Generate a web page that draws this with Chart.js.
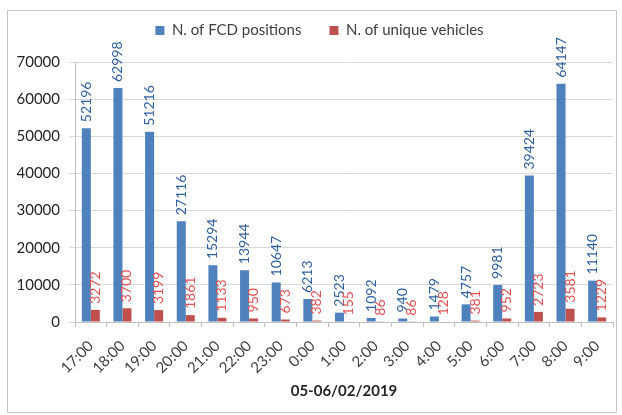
<!DOCTYPE html>
<html>
<head>
<meta charset="utf-8">
<script src="https://cdn.jsdelivr.net/npm/chart.js@4.4.1/dist/chart.umd.min.js"></script>
<style>
  html, body { margin: 0; padding: 0; background: #fff; }
  #wrap { position: relative; width: 622px; height: 415px; }
  #frame { position: absolute; left: 7px; top: 10px; width: 608px; height: 401px; border: 1px solid #c6c6c6; pointer-events: none; }
  canvas { position: absolute; left: 0; top: 0; }
</style>
</head>
<body>
<div id="wrap">
  <div id="frame"></div>
  <canvas id="c" width="622" height="415"></canvas>
</div>
<script>
const hours = ['17:00','18:00','19:00','20:00','21:00','22:00','23:00','0:00','1:00','2:00','3:00','4:00','5:00','6:00','7:00','8:00','9:00'];
const fcdPositions = [52196, 62998, 51216, 27116, 15294, 13944, 10647, 6213, 2523, 1092, 940, 1479, 4757, 9981, 39424, 64147, 11140];
const uniqueVehicles = [3272, 3700, 3199, 1861, 1133, 950, 673, 382, 155, 86, 86, 128, 381, 952, 2723, 3581, 1229];
const yTicks = [0, 10000, 20000, 30000, 40000, 50000, 60000, 70000];
const xTitle = '05-06/02/2019';

const labelColors = ['#2f5f9e', '#e05252'];

const valueLabels = {
  id: 'valueLabels',
  afterDatasetsDraw(chart) {
    const ctx = chart.ctx;
    ctx.save();
    ctx.font = '14px Lato';
    ctx.textAlign = 'left';
    ctx.textBaseline = 'middle';
    chart.data.datasets.forEach((ds, di) => {
      const meta = chart.getDatasetMeta(di);
      ctx.fillStyle = labelColors[di];
      meta.data.forEach((el, i) => {
        ctx.save();
        ctx.translate(el.x, el.y - 6);
        ctx.rotate(-Math.PI / 2);
        ctx.fillText(String(ds.data[i]), 0, 0);
        ctx.restore();
      });
    });
    ctx.restore();
  }
};

const widenYLabels = {
  id: 'widenYLabels',
  afterLayout(chart) { chart.scales.y.left = 0; }
};

const chart = new Chart(document.getElementById('c'), {
  type: 'bar',
  data: {
    labels: hours,
    datasets: [
      { label: 'N. of FCD positions', data: fcdPositions, backgroundColor: '#4f81bd', borderWidth: 0 },
      { label: 'N. of unique vehicles', data: uniqueVehicles, backgroundColor: '#c0504d', borderWidth: 0 }
    ]
  },
  plugins: [valueLabels, widenYLabels],
  options: {
    responsive: false,
    animation: false,
    devicePixelRatio: 1,
    layout: { padding: { left: 26, right: 9, top: -5, bottom: 15 } },
    datasets: { bar: { categoryPercentage: 0.57, barPercentage: 1 } },
    plugins: {
      legend: {
        position: 'top',
        labels: {
          font: { family: 'Lato', size: 15 },
          color: '#404040',
          boxWidth: 9, boxHeight: 9,
          padding: 28
        }
      },
      tooltip: { enabled: false }
    },
    scales: {
      x: {
        offset: true,
        grid: { display: true, drawOnChartArea: false, drawTicks: true, tickLength: 5, color: '#bfbfbf', offset: true },
        border: { color: '#bfbfbf' },
        ticks: { font: { family: 'Lato', size: 15 }, color: '#404040', minRotation: 45, maxRotation: 45, padding: 10, autoSkip: false },
        title: { display: true, text: xTitle, font: { family: 'Lato', size: 15, weight: 'bold' }, color: '#262626', padding: { top: 0, bottom: 0 } },
        afterFit(s) { s.height = 78; }
      },
      y: {
        min: 0, max: 70000,
        afterBuildTicks(s) { s.ticks = yTicks.map(v => ({ value: v })); },
        grid: { color: '#d9d9d9', tickLength: 6 },
        border: { color: '#bfbfbf' },
        ticks: { font: { family: 'Lato', size: 15 }, color: '#262626', padding: 9, callback: v => String(v) },
        afterFit(s) { s.width = 49; }
      },
      spacer: {
        type: 'linear', position: 'top', display: true,
        grid: { display: false }, border: { display: false }, ticks: { display: false },
        afterFit(s) { s.height = 14; }
      }
    }
  }
});
</script>
</body>
</html>
